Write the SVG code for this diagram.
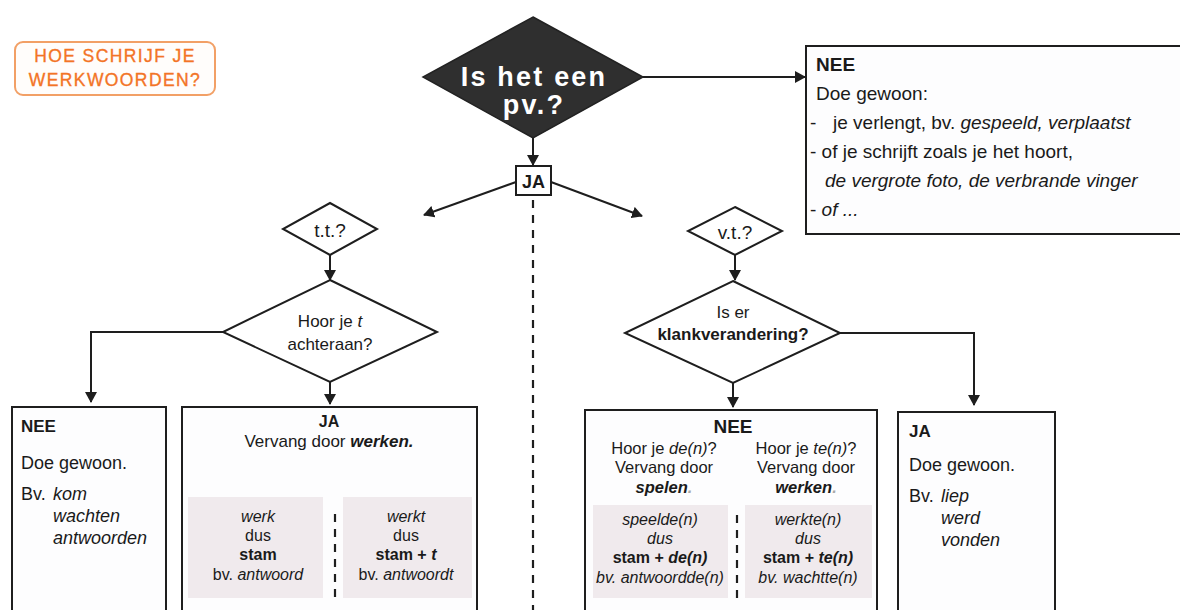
<svg xmlns="http://www.w3.org/2000/svg" width="1180" height="610" viewBox="0 0 1180 610">
<style>
  .t{font-family:"Liberation Sans",Arial,sans-serif;fill:#1a1a1a}
  .b{font-weight:bold}
  .i{font-style:italic}
  .box{fill:#fdfdfe;stroke:#1e1e1e;stroke-width:2}
  .dia{fill:#ffffff;stroke:#1e1e1e;stroke-width:2}
  .ln{fill:none;stroke:#1e1e1e;stroke-width:2}
  .dash{fill:none;stroke:#1e1e1e;stroke-width:2.2;stroke-dasharray:8 7}
  .shade{fill:#f0eaed}
  .or{fill:#f37426;stroke:#f37426;stroke-width:0.35}
</style>
<defs>
  <marker id="ah" markerWidth="12" markerHeight="12" refX="10" refY="6" orient="auto" markerUnits="userSpaceOnUse">
    <path d="M0,0 L11,6 L0,12 Z" fill="#1e1e1e"/>
  </marker>
</defs>
<rect width="1180" height="610" fill="#ffffff"/>

<g id="title">
  <rect x="15" y="42" width="200" height="53" rx="8" fill="#fffdfb" stroke="#f2a066" stroke-width="2"/>
  <text class="t or" x="115" y="62" font-size="17.5" text-anchor="middle" letter-spacing="1.4">HOE SCHRIJF JE</text>
  <text class="t or" x="115" y="86" font-size="17.5" text-anchor="middle" letter-spacing="1.4">WERKWOORDEN?</text>
</g>

<g id="connectors">
  <line class="ln" x1="643" y1="77" x2="805" y2="77" marker-end="url(#ah)"/>
  <line class="ln" x1="533" y1="138" x2="533" y2="165" marker-end="url(#ah)"/>
  <line class="ln" x1="516" y1="182" x2="424" y2="215" marker-end="url(#ah)"/>
  <line class="ln" x1="551" y1="182" x2="642" y2="216" marker-end="url(#ah)"/>
  <line class="dash" x1="533" y1="200" x2="533" y2="612"/>
  <line class="ln" x1="330" y1="255" x2="330" y2="280" marker-end="url(#ah)"/>
  <polyline class="ln" points="223,332 91,332 91,402" marker-end="url(#ah)"/>
  <line class="ln" x1="330" y1="382" x2="330" y2="404" marker-end="url(#ah)"/>
  <line class="ln" x1="735" y1="255" x2="735" y2="280" marker-end="url(#ah)"/>
  <polyline class="ln" points="840,333 974,333 974,405" marker-end="url(#ah)"/>
  <line class="ln" x1="733" y1="383" x2="733" y2="407" marker-end="url(#ah)"/>
</g>

<g id="main-question">
  <polygon points="533,17 643,77 533,138 423,77" fill="#2f2f2f" stroke="#222" stroke-width="1.5"/>
  <text class="t b" x="534" y="86" font-size="27" letter-spacing="2.2" text-anchor="middle" style="fill:#ffffff">Is het een</text>
  <text class="t b" x="534" y="114" font-size="27" letter-spacing="2.2" text-anchor="middle" style="fill:#ffffff">pv.?</text>
</g>

<g id="ja-label">
  <rect x="516" y="166" width="35" height="29" fill="#ffffff" stroke="#1e1e1e" stroke-width="2"/>
  <text class="t b" x="533.5" y="188" font-size="18" text-anchor="middle">JA</text>
</g>

<g id="nee-top">
  <rect class="box" x="806" y="46" width="384" height="188"/>
  <text class="t b" x="816" y="71" font-size="19">NEE</text>
  <text class="t" x="816" y="100" font-size="19">Doe gewoon:</text>
  <text class="t" x="810" y="129" font-size="19">-<tspan x="833">je verlengt, bv. </tspan><tspan class="i">gespeeld, verplaatst</tspan></text>
  <text class="t" x="810" y="158" font-size="19">- of je schrijft zoals je het hoort,</text>
  <text class="t i" x="825" y="187" font-size="19">de vergrote foto, de verbrande vinger</text>
  <text class="t" x="810" y="216" font-size="19">- <tspan class="i">of ...</tspan></text>
</g>

<g id="tt">
  <polygon class="dia" points="330,203 377,229 330,255 283,229"/>
  <text class="t" x="330" y="237" font-size="19" text-anchor="middle">t.t.?</text>
</g>

<g id="hoor-t">
  <polygon class="dia" points="330,280 437,332 330,382 223,332"/>
  <text class="t" x="330" y="327" font-size="17" text-anchor="middle">Hoor je <tspan class="i">t</tspan></text>
  <text class="t" x="330" y="350" font-size="17" text-anchor="middle">achteraan?</text>
</g>

<g id="nee-left">
  <rect class="box" x="12" y="407" width="154" height="215"/>
  <text class="t b" x="21" y="432" font-size="17">NEE</text>
  <text class="t" x="21" y="469" font-size="18">Doe gewoon.</text>
  <text class="t" x="21" y="500" font-size="18">Bv.</text>
  <text class="t i" x="53" y="500" font-size="18">kom</text>
  <text class="t i" x="53" y="522" font-size="18">wachten</text>
  <text class="t i" x="53" y="544" font-size="18">antwoorden</text>
</g>

<g id="ja-tt">
  <rect class="box" x="182" y="407" width="295" height="215"/>
  <rect class="shade" x="188" y="497" width="135" height="101"/>
  <rect class="shade" x="343" y="497" width="129" height="101"/>
  <line class="dash" x1="335" y1="514" x2="335" y2="598" stroke-dasharray="7 5"/>
  <text class="t b" x="329" y="427" font-size="16" text-anchor="middle">JA</text>
  <text class="t" x="329" y="447" font-size="17" text-anchor="middle">Vervang door <tspan class="b i">werken.</tspan></text>
  <text class="t i" x="258" y="522" font-size="16" text-anchor="middle">werk</text>
  <text class="t" x="258" y="541" font-size="16" text-anchor="middle">dus</text>
  <text class="t b" x="258" y="560" font-size="16" text-anchor="middle">stam</text>
  <text class="t" x="258" y="580" font-size="16" text-anchor="middle">bv. <tspan class="i">antwoord</tspan></text>
  <text class="t i" x="406" y="522" font-size="16" text-anchor="middle">werkt</text>
  <text class="t" x="406" y="541" font-size="16" text-anchor="middle">dus</text>
  <text class="t b" x="406" y="560" font-size="16" text-anchor="middle">stam + <tspan class="i">t</tspan></text>
  <text class="t" x="406" y="580" font-size="16" text-anchor="middle">bv. <tspan class="i">antwoordt</tspan></text>
</g>

<g id="vt">
  <polygon class="dia" points="735,207 782,231 735,255 688,231"/>
  <text class="t" x="735" y="239" font-size="19" text-anchor="middle">v.t.?</text>
</g>

<g id="klank">
  <polygon class="dia" points="733,281 840,333 733,383 625,333"/>
  <text class="t" x="733" y="318" font-size="17" text-anchor="middle">Is er</text>
  <text class="t b" x="733" y="340" font-size="17" text-anchor="middle">klankverandering?</text>
</g>

<g id="nee-vt">
  <rect class="box" x="585" y="410" width="292" height="212"/>
  <rect class="shade" x="593" y="505" width="135" height="93"/>
  <rect class="shade" x="745" y="505" width="127" height="93"/>
  <line class="dash" x1="737" y1="515" x2="737" y2="598" stroke-dasharray="7 5"/>
  <text class="t b" x="733" y="433" font-size="19" text-anchor="middle">NEE</text>
  <text class="t" x="664" y="454" font-size="16.5" text-anchor="middle">Hoor je <tspan class="i">de(n)</tspan>?</text>
  <text class="t" x="664" y="473" font-size="16.5" text-anchor="middle">Vervang door</text>
  <text class="t b i" x="664" y="493" font-size="16.5" text-anchor="middle">spelen<tspan style="fill:#aaaaaa">.</tspan></text>
  <text class="t" x="806" y="454" font-size="16.5" text-anchor="middle">Hoor je <tspan class="i">te(n)</tspan>?</text>
  <text class="t" x="806" y="473" font-size="16.5" text-anchor="middle">Vervang door</text>
  <text class="t b i" x="806" y="493" font-size="16.5" text-anchor="middle">werken<tspan style="fill:#aaaaaa">.</tspan></text>
  <text class="t i" x="660" y="525" font-size="16" text-anchor="middle">speelde(n)</text>
  <text class="t i" x="660" y="544" font-size="16" text-anchor="middle">dus</text>
  <text class="t b" x="660" y="563" font-size="16" text-anchor="middle">stam + <tspan class="i">de(n)</tspan></text>
  <text class="t i" x="660" y="583" font-size="16" text-anchor="middle">bv. antwoordde(n)</text>
  <text class="t i" x="808" y="525" font-size="16" text-anchor="middle">werkte(n)</text>
  <text class="t i" x="808" y="544" font-size="16" text-anchor="middle">dus</text>
  <text class="t b" x="808" y="563" font-size="16" text-anchor="middle">stam + <tspan class="i">te(n)</tspan></text>
  <text class="t i" x="808" y="583" font-size="16" text-anchor="middle">bv. wachtte(n)</text>
</g>

<g id="ja-vt">
  <rect class="box" x="898" y="412" width="157" height="210"/>
  <text class="t b" x="909" y="437" font-size="17">JA</text>
  <text class="t" x="909" y="471" font-size="18">Doe gewoon.</text>
  <text class="t" x="909" y="502" font-size="18">Bv.</text>
  <text class="t i" x="941" y="502" font-size="18">liep</text>
  <text class="t i" x="941" y="524" font-size="18">werd</text>
  <text class="t i" x="941" y="546" font-size="18">vonden</text>
</g>
</svg>
